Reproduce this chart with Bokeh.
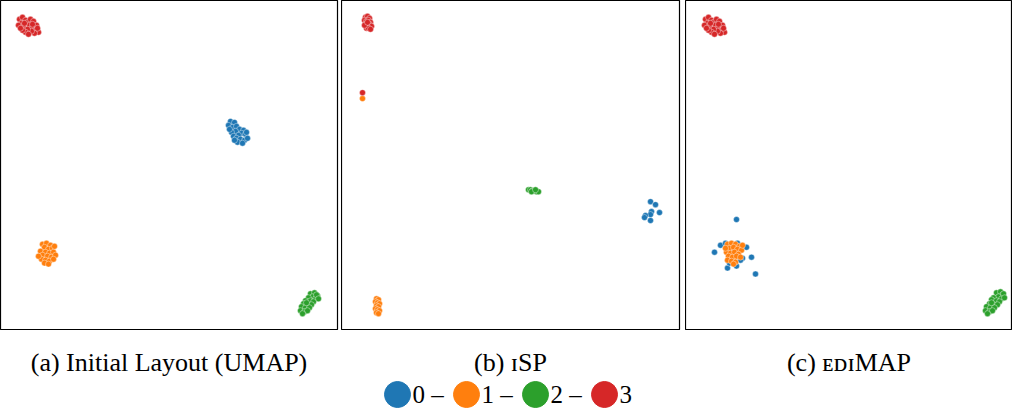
from bokeh.plotting import figure
from bokeh.layouts import column, row
from bokeh.models import Range1d
from bokeh.core.properties import value
from bokeh.embed import file_html
from bokeh.resources import INLINE

COLORS = ["#1f77b4", "#ff7f0e", "#2ca02c", "#d62728"]
CLASSES = ["0", "1", "2", "3"]
CAPTIONS = ["(a) Initial Layout (UMAP)", "(b) \u026aSP", "(c) \u1d07\u1d05\u026aMAP"]

# ---- panel (a): Initial Layout (UMAP) ----
a_blue_x = [230, 234, 228, 232, 236, 239, 243, 235, 231, 241, 245, 238, 233, 236, 240, 244, 247, 237, 242, 229, 246, 234]
a_blue_y = [122, 123, 126, 128, 127, 130, 131, 132, 133, 134, 135, 136, 137, 139, 140, 141, 139, 143, 144, 130, 133, 141]
a_orange_x = [42, 46, 50, 44, 48, 52, 40, 45, 49, 53, 42, 47, 51, 55, 41, 45, 49, 53, 44, 48, 38, 54]
a_orange_y = [246, 245, 247, 249, 251, 250, 253, 254, 255, 254, 257, 258, 259, 257, 261, 262, 263, 261, 265, 266, 258, 248]
a_green_x = [310, 314, 317, 312, 308, 315, 305, 310, 313, 303, 307, 311, 301, 305, 309, 300, 304, 307, 302, 316, 318, 306]
a_green_y = [296, 295, 298, 299, 300, 301, 303, 303, 304, 306, 307, 307, 309, 310, 310, 313, 314, 313, 316, 297, 301, 305]
a_red_x = [19, 22, 25, 21, 18, 23, 27, 30, 33, 29, 32, 36, 35, 38, 34, 31, 27, 25, 22, 28, 37, 24, 20, 32]
a_red_y = [19, 17, 20, 23, 25, 26, 22, 19, 21, 25, 27, 25, 30, 32, 33, 31, 29, 32, 30, 34, 28, 23, 28, 24]

# ---- panel (b): iSP ----
b_blue_x = [309, 314, 310, 309, 318, 304, 303, 309]
b_blue_y = [203, 206, 213, 216, 214, 217, 219, 222]
b_orange_x = [35, 37, 34, 36, 38, 35, 37, 34, 36, 38, 35, 37, 21]
b_orange_y = [301, 302, 304, 305, 306, 308, 309, 311, 312, 313, 315, 316, 99]
b_green_x = [187, 189, 191, 193, 195, 197, 190, 194]
b_green_y = [191, 191, 192, 192, 193, 193, 193, 191]
b_red_x = [24, 26, 28, 23, 25, 27, 29, 24, 26, 28, 30, 25, 27, 29, 23, 26, 21]
b_red_y = [17, 16, 18, 20, 21, 20, 22, 24, 25, 24, 26, 28, 28, 29, 25, 22, 93]

# ---- panel (c): EDIMAP ----
c_blue_x = [51, 35, 29, 52, 57, 61, 66, 70, 42, 51, 57, 47, 44, 50, 55, 40]
c_blue_y = [221, 247, 254, 245, 249, 249, 259, 276, 270, 268, 260, 253, 265, 255, 262, 245]
c_orange_x = [42, 46, 50, 54, 44, 48, 52, 56, 41, 45, 49, 53, 43, 47, 51, 55, 42, 46, 50, 40, 57, 48]
c_orange_y = [246, 245, 246, 248, 250, 249, 251, 252, 254, 255, 254, 256, 258, 259, 258, 259, 262, 263, 264, 250, 247, 266]
c_green_x = [311, 315, 317, 313, 308, 316, 306, 311, 314, 304, 308, 312, 301, 305, 309, 300, 304, 307, 302, 318, 319, 306]
c_green_y = [295, 294, 297, 299, 300, 301, 302, 303, 304, 306, 307, 307, 309, 310, 310, 313, 314, 313, 316, 296, 300, 305]
c_red_x = [20, 23, 26, 22, 19, 24, 28, 31, 34, 30, 33, 37, 36, 39, 35, 32, 28, 26, 23, 29, 38, 25, 21, 33]
c_red_y = [19, 17, 20, 23, 25, 26, 22, 19, 21, 25, 27, 25, 30, 32, 33, 31, 29, 32, 30, 34, 28, 23, 28, 24]

panels = [
    [(a_blue_x, a_blue_y), (a_orange_x, a_orange_y), (a_green_x, a_green_y), (a_red_x, a_red_y)],
    [(b_blue_x, b_blue_y), (b_orange_x, b_orange_y), (b_green_x, b_green_y), (b_red_x, b_red_y)],
    [(c_blue_x, c_blue_y), (c_orange_x, c_orange_y), (c_green_x, c_green_y), (c_red_x, c_red_y)],
]

frame_w = [337, 338, 327]
gap_r = [4, 6, 0]
FRAME_H = 330
DATA_H = 333

figs = []
for i, data in enumerate(panels):
    p = figure(width=frame_w[i] + gap_r[i], height=FRAME_H, output_backend="svg",
               toolbar_location=None, x_axis_location=None, y_axis_location=None,
               x_range=Range1d(0, frame_w[i]), y_range=Range1d(DATA_H, 0),
               min_border_left=0, min_border_right=gap_r[i], min_border_top=0, min_border_bottom=0)
    p.grid.visible = False
    p.outline_line_color = "black"
    p.outline_line_width = 1.2
    p.background_fill_color = "white"
    for k, (xs, ys) in enumerate(data):
        p.scatter(xs, ys, size=6, fill_color=COLORS[k], line_color="white", line_width=0.4)
    figs.append(p)

total_w = sum(w + g for w, g in zip(frame_w, gap_r))
BOT_H = 80
bot = figure(width=total_w, height=BOT_H, output_backend="svg", toolbar_location=None,
             x_axis_location=None, y_axis_location=None,
             x_range=Range1d(0, total_w), y_range=Range1d(0, BOT_H),
             min_border=0)
bot.grid.visible = False
bot.outline_line_color = None

# captions centered under each panel
cap_x = []
left = 0
for w, g in zip(frame_w, gap_r):
    cap_x.append(left + w / 2)
    left += w + g
bot.text(x=cap_x, y=[48] * 3, text=CAPTIONS, text_font=value("Liberation Serif"),
         text_font_size="26px", text_align="center", text_baseline="middle", text_color="black")

# legend row
leg_labels = [c + " \u2013" for c in CLASSES[:-1]] + [CLASSES[-1]]
start, step = 397, 69
mx = [start + step * k for k in range(len(CLASSES))]
bot.scatter(mx, [16] * 4, size=26, color=COLORS, line_color=COLORS)
bot.text(x=[m + 15 for m in mx], y=[16] * 4, text=leg_labels, text_font=value("Liberation Serif"),
         text_font_size="25px", text_align="left", text_baseline="middle", text_color="black")

layout = column(row(*figs, spacing=0), bot, spacing=0)
open("out.html", "w").write(file_html(layout, INLINE))
